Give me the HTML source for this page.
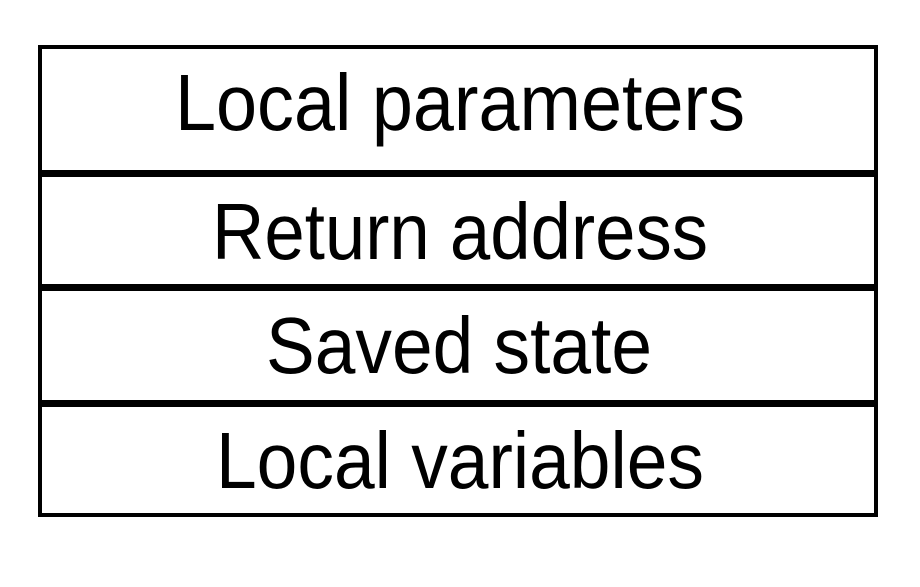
<!DOCTYPE html>
<html><head><style>html,body{margin:0;padding:0;background:#fff;}</style></head>
<body>
<svg width="920" height="582" xmlns="http://www.w3.org/2000/svg">
<rect x="40" y="47" width="836" height="468" fill="none" stroke="#000" stroke-width="4"/>
<rect x="40" y="170" width="836" height="7" fill="#000"/>
<rect x="40" y="284" width="836" height="7" fill="#000"/>
<rect x="40" y="400" width="836" height="7" fill="#000"/>
<g font-family="Liberation Sans, sans-serif" font-size="80" text-anchor="middle" fill="#000">
<text x="460" y="130" textLength="570" lengthAdjust="spacingAndGlyphs">Local parameters</text>
<text x="460" y="259" textLength="496" lengthAdjust="spacingAndGlyphs">Return address</text>
<text x="459" y="373" textLength="386" lengthAdjust="spacingAndGlyphs">Saved state</text>
<text x="460" y="488" textLength="488" lengthAdjust="spacingAndGlyphs">Local variables</text>
</g>
</svg>
</body></html>
